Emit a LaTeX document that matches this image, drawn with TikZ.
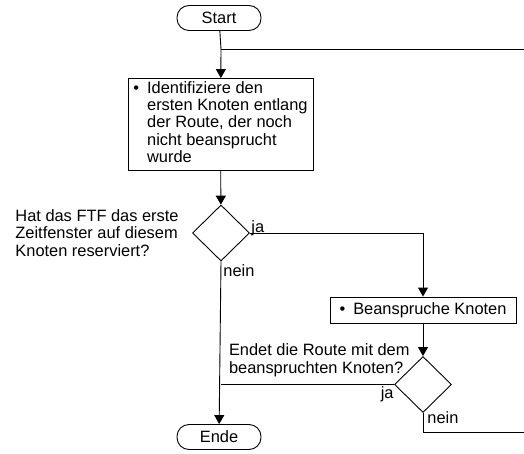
\documentclass[tikz,border=0pt]{standalone}
\usepackage{fontspec}
\setmainfont{Liberation Sans}
\usetikzlibrary{shapes.geometric,arrows.meta}
\tikzset{
  term/.style={draw,rounded corners=12pt,minimum width=84pt,minimum height=25pt,inner sep=0pt},
  task/.style={draw,inner sep=0pt},
  decide/.style={draw,diamond,aspect=1,inner sep=0pt,minimum width=57pt,minimum height=56pt},
  txt/.style={inner sep=0pt,align=left},
  lbl/.style={inner sep=0pt},
  flow/.style={-{Triangle[length=9pt,width=10pt]}}
}
\begin{document}
\begin{tikzpicture}[x=1pt,y=-1pt,line width=0.9pt,font=\fontsize{16.4}{17.2}\selectfont]
\useasboundingbox (0,0) rectangle (524,454);

\node[term] (start) at (219,18) {Start};
\node[task,minimum width=185pt,minimum height=92pt] (ident) at (220.5,124.5) {%
  \begin{tabular}{@{}l@{\hspace{8pt}}l@{}}
  \textbullet & Identifiziere den\\
  & ersten Knoten entlang\\
  & der Route, der noch\\
  & nicht beansprucht\\
  & wurde
  \end{tabular}\hspace{34pt}};
\node[decide] (q1) at (221,233) {};
\node[txt,anchor=west] (q1txt) at (15,233) {Hat das FTF das erste\\Zeitfenster auf diesem\\Knoten reserviert?};
\node[task,minimum width=186pt,minimum height=26pt] (claim) at (423,310) {%
  \textbullet\hspace{8pt}Beanspruche Knoten\hspace{12pt}};
\node[decide] (q2) at (423,384.5) {};
\node[txt,anchor=south east] (q2txt) at (410,377) {Endet die Route mit dem\\beanspruchten Knoten?};
\node[term] (ende) at (219,437) {Ende};

\coordinate (loopin) at (524,49);
\coordinate (loopout) at (524,432);
\coordinate (join) at (221,49);
\coordinate (merge) at (221,384.5);

% main column
\draw (start) -- (join);
\draw[flow] (join) -- (ident);
\draw (loopin) -- (join);
\draw[flow] (ident) -- (q1);
\draw[flow] (q1.south) -- (ende);
\draw[flow] (q1.east) -| (claim.north);
\draw[flow] (claim) -- (q2);
\draw (q2.west) -- (merge);
\draw (q2.south) |- (loopout);

% labels
\node[lbl,anchor=base west] (ja1) at ([xshift=1pt]q1.east) {ja};
\node[lbl,anchor=base west] (nein1) at ([xshift=2pt,yshift=-15pt]q1.south) {nein};
\node[lbl,anchor=base east] (ja2) at ([yshift=-13.5pt]q2.west) {ja};
\node[lbl,anchor=base west] (nein2) at ([xshift=4pt,yshift=-11pt]q2.south) {nein};
\end{tikzpicture}
\end{document}
